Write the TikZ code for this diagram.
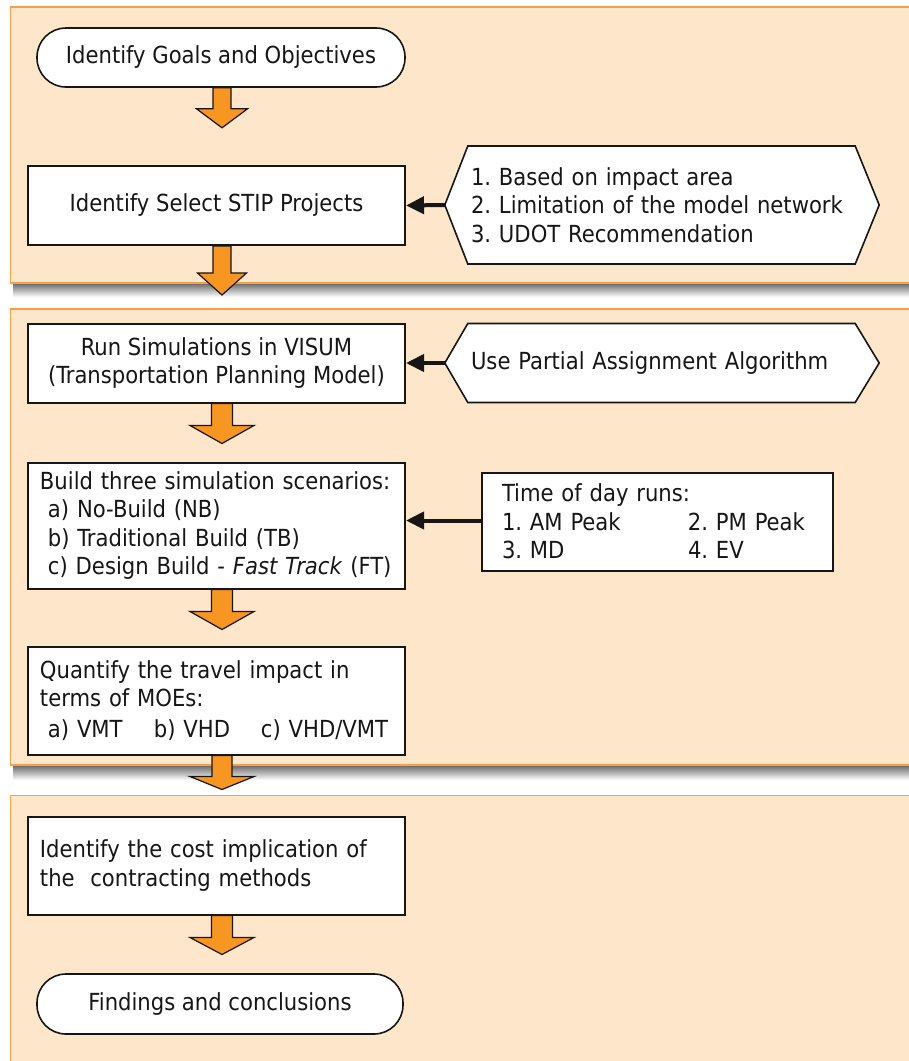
\documentclass[tikz,border=0pt]{standalone}
\usepackage{fontspec}
\setmainfont{DejaVu Sans Condensed}
\usetikzlibrary{calc,arrows.meta}

\definecolor{panelfill}{RGB}{253,230,202}
\definecolor{panelline}{RGB}{247,160,70}
\definecolor{arrowfill}{RGB}{247,150,32}
\definecolor{ink}{RGB}{22,22,22}

\newcommand\stepfont{\fontsize{23.5bp}{28.5bp}\selectfont\frenchspacing}

% downward block arrow: #1 start point, #2 shaft length, #3 head length,
% #4 shaft half width, #5 head half width
\newcommand\blockdown[5]{%
  \draw[blockarrow] ($(#1)+(-#4,0)$) -- ++(0,#2) -- ++({#4-#5},0)
    -- ++(#5,#3) -- ++(#5,-#3) -- ++({#4-#5},0) -- ++(0,-#2) -- cycle;}

\pgfdeclarelayer{panels}
\pgfdeclarelayer{shapes}
\pgfsetlayers{panels,shapes,main}

\tikzset{
  panel/.style={fill=panelfill, draw=panelline, line width=1.5bp},
  stepbox/.style={draw=ink, fill=white, line width=2bp, inner ysep=0pt,
    font=\stepfont, text=ink},
  centerbox/.style={stepbox, align=center, minimum width=377bp},
  leftbox/.style={stepbox, align=left, inner xsep=12bp, text width=353bp},
  terminal/.style={stepbox, align=center, line width=1.6bp, rounded corners=29bp},
  hexlabel/.style={font=\stepfont, text=ink, align=left, inner ysep=0pt,
    inner xsep=26bp, text width=382bp, minimum height=118bp},
  hexline/.style={draw=ink, fill=white, line width=1.6bp, line join=miter},
  link/.style={draw=ink, line width=4bp, -{Triangle[length=18bp,width=17bp]}},
  blockarrow/.style={fill=arrowfill, draw=ink, line width=1.2bp, line join=miter},
}

\begin{document}
\begin{tikzpicture}[x=1bp,y=-1bp]
\useasboundingbox (0,0) rectangle (909,1061);
\coordinate (ax) at (222,0);

% ---- shaded panels ----
\begin{pgfonlayer}{panels}
  \fill[white] (0,0) rectangle (909,1061);
  \shade[top color=black!60, bottom color=white] (13,283) rectangle (915,297);
  \shade[top color=black!60, bottom color=white] (13,765) rectangle (915,780);
  \draw[panel] (10.5,7) rectangle (915,283);
  \draw[panel] (10.5,309) rectangle (915,765);
  \draw[panel] (10.5,795.5) rectangle (915,1075);
\end{pgfonlayer}

% ---- flow steps ----
\node[terminal, minimum width=368bp, minimum height=59bp] (goals) at (221,57.5)
  {Identify Goals and Objectives};
\node[centerbox, minimum height=79bp] (stip) at (216.5,205.5)
  {Identify Select STIP Projects};
\node[centerbox, minimum height=79bp] (visum) at (216.5,363)
  {Run Simulations in VISUM\\(Transportation Planning Model)};
\node[leftbox, minimum height=126bp] (build) at (216.5,525.5)
  {Build three simulation scenarios:\\
   \hspace*{8bp}a) No-Build (NB)\\
   \hspace*{8bp}b) Traditional Build (TB)\\
   \hspace*{8bp}\mbox{c) Design Build - \textit{Fast Track} (FT)}};
\node[leftbox, minimum height=108bp] (quant) at (216.5,700.5)
  {Quantify the travel impact in\\
   terms of MOEs:\\[2.5bp]
   \hspace*{8bp}\makebox[106bp][l]{a) VMT}\makebox[107bp][l]{b) VHD}c) VHD/VMT};
\node[leftbox, minimum height=98bp] (cost) at (216.5,865.5)
  {Identify the cost implication of\\
   the\ \ contracting methods};
\node[terminal, minimum width=366bp, minimum height=60bp] (find) at (220,1004)
  {Findings and conclusions};

% ---- side inputs ----
\node[hexlabel] (hex1) at (662,205)
  {1. Based on impact area\\2. Limitation of the model network\\3. UDOT Recommendation};
\node[hexlabel] (hex2) at (662,363)
  {Use Partial Assignment Algorithm};
\begin{pgfonlayer}{shapes}
  \foreach \h/\hh in {hex1/59,hex2/39.5} {
    \draw[hexline] (\h.west) -- ($(\h.west)+(23,-\hh)$) -- ($(\h.east)+(-24,-\hh)$)
      -- (\h.east) -- ($(\h.east)+(-24,\hh)$) -- ($(\h.west)+(23,\hh)$) -- cycle;
  }
\end{pgfonlayer}
\node[stepbox, align=left, inner xsep=20bp, text width=311bp, minimum height=98bp]
  (tod) at (657.5,521.5)
  {Time of day runs:\\
   \makebox[186bp][l]{1. AM Peak}2. PM Peak\\
   \makebox[186bp][l]{3. MD}4. EV};

% ---- connectors ----
\draw[link] (hex1.west) -- (stip.east);
\draw[link] (hex2.west) -- (visum.east);
\draw[link] ([yshift=1bp]tod.west) -- ([yshift=1bp]tod.west -| build.east);

\blockdown{goals.south -| ax}{21}{19}{9}{25.5}
\blockdown{stip.south -| ax}{27}{22}{9}{24.5}
\blockdown{visum.south -| ax}{22}{18}{10.5}{32}
\blockdown{build.south -| ax}{22}{18}{10.5}{32}
\blockdown{quant.south -| ax}{21}{13}{10}{32}
\blockdown{cost.south -| ax}{22}{17}{10.5}{32}
\end{tikzpicture}
\end{document}
